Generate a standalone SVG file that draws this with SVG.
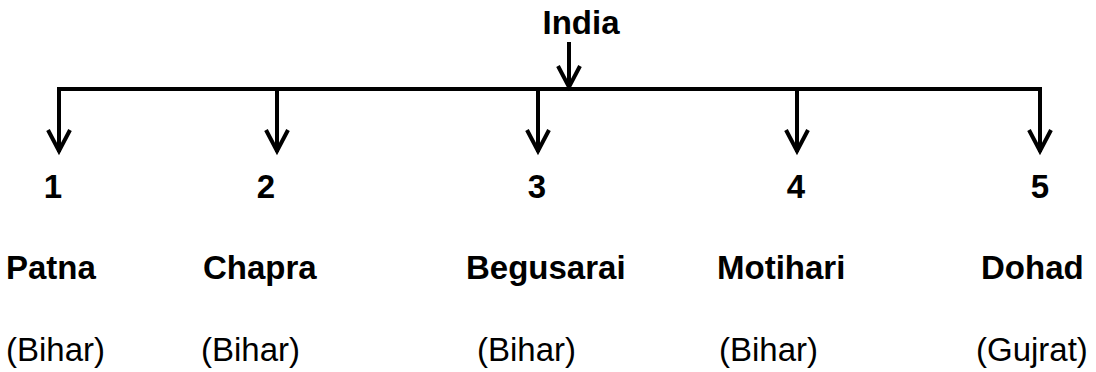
<svg xmlns="http://www.w3.org/2000/svg" width="1096" height="372" viewBox="0 0 1096 372">
<style>
.b{font-family:"Liberation Sans",Arial,sans-serif;font-weight:bold;font-size:33px;fill:#000}
.r{font-family:"Liberation Sans",Arial,sans-serif;font-size:33px;fill:#000}
.l{stroke:#000;stroke-width:4;fill:none;stroke-linecap:square}
.h{stroke:#000;stroke-width:4;fill:none;stroke-linejoin:miter}
</style>
<g id="connectors">
<path class="l" d="M59,150 V89 H1040 V150"/>
<path class="l" d="M277,89 V150 M538,89 V150 M797,89 V150"/>
<path class="l" d="M569,44 V87"/>
<path class="h" d="M558,66 L569,87 L580,66"/>
<path class="h" d="M48,130 L59,151 L70,130"/>
<path class="h" d="M266,130 L277,151 L288,130"/>
<path class="h" d="M527,130 L538,151 L549,130"/>
<path class="h" d="M786,130 L797,151 L808,130"/>
<path class="h" d="M1029,130 L1040,151 L1051,130"/>
</g>
<g id="india"><text class="b" x="581" y="34" text-anchor="middle">India</text></g>
<g id="n1"><text class="b" x="53" y="198" text-anchor="middle">1</text><text class="b" x="6" y="279">Patna</text><text class="r" x="6" y="361">(Bihar)</text></g>
<g id="n2"><text class="b" x="266" y="198" text-anchor="middle">2</text><text class="b" x="203" y="279">Chapra</text><text class="r" x="201" y="361">(Bihar)</text></g>
<g id="n3"><text class="b" x="537" y="198" text-anchor="middle">3</text><text class="b" x="466" y="279">Begusarai</text><text class="r" x="477" y="361">(Bihar)</text></g>
<g id="n4"><text class="b" x="796" y="198" text-anchor="middle">4</text><text class="b" x="717" y="279">Motihari</text><text class="r" x="719" y="361">(Bihar)</text></g>
<g id="n5"><text class="b" x="1040" y="198" text-anchor="middle">5</text><text class="b" x="981" y="279">Dohad</text><text class="r" x="976" y="361">(Gujrat)</text></g>
</svg>
